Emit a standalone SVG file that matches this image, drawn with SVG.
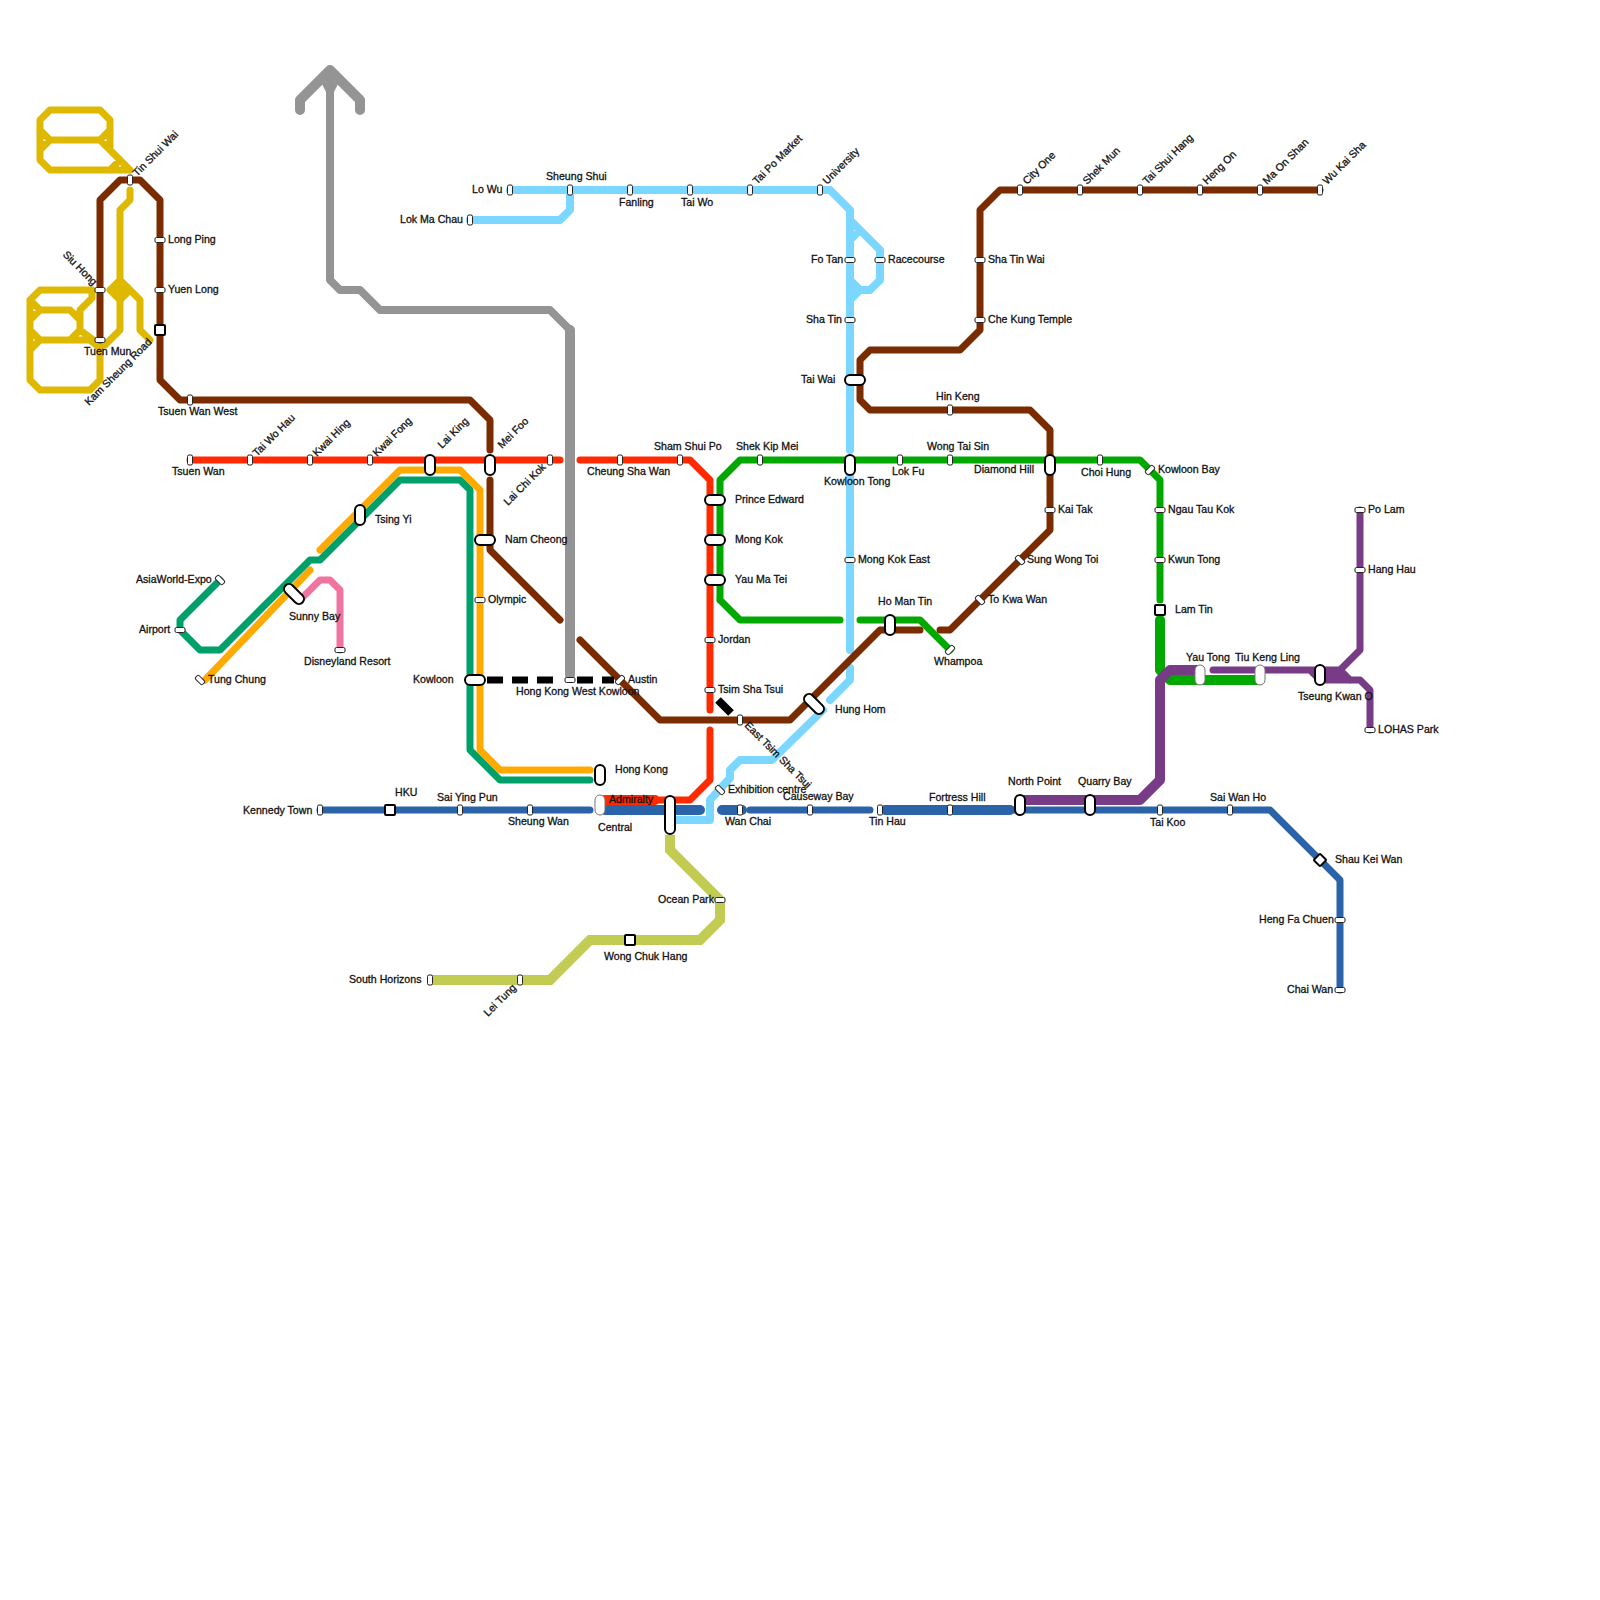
<svg xmlns="http://www.w3.org/2000/svg" width="1600" height="1600" viewBox="0 0 1600 1600">
<style>
text{font-family:"Liberation Sans",Arial,sans-serif;font-size:10.6px;fill:#111;stroke:#111;stroke-width:.3px}
.l{fill:none;stroke-linecap:round;stroke-linejoin:round;stroke-width:7}
.b{stroke-linejoin:miter;stroke-linecap:butt}
.t{stroke-width:10}
.red{stroke:#ff2a00}.brn{stroke:#7a2c00}.grn{stroke:#00a800}.lb{stroke:#7bd7ff}.blu{stroke:#2a63a8}.pur{stroke:#783c87}
.yel{stroke:#dfb800}.gry{stroke:#949494}.org{stroke:#ffaa00}.tea{stroke:#00a06a}.pnk{stroke:#f074a0}.olv{stroke:#c2cc52}
.s{fill:#fff;stroke:#222;stroke-width:1}
.p{fill:#fff;stroke:#000;stroke-width:2}
.g{fill:#fff;stroke:#777;stroke-width:1}
</style>
<rect width="1600" height="1600" fill="#fff"/>
<g id="connectors">
<path class="l gry" style="stroke-width:8" d="M330 70V280L340 290H360L380 310H550L570 330"/>
<path class="l t gry" d="M300 110V100L330 70L360 100V110M570 330V675"/>
<polygon fill="#949494" points="322,84 330,78 338,84 334,92 326,92"/>
<path class="l yel" d="M130 170H50L40 160V120L50 110H100L110 120V150L130 170M40 130L50 140H100L110 130M40 150L50 140M100 140L110 150M110 170L120 160M130 190V200L120 210V280L140 300V330L150 340M120 280L110 290L120 300V330L105 345H100L80 330V310L92 298V290H40L30 300V380L40 390H90L100 380V345M120 300L130 290M120 285V300M115 290H125M30 300L40 310H70L80 320M30 320L40 310M80 330L70 340H40L30 330M30 350L40 340H90L100 348"/>
<path class="l red" d="M190 460H560M580 460H690L710 480V710M710 730V780L690 800H660"/>
<path class="l t red b" style="stroke-linecap:round" d="M605 800H655"/>
<path class="l org" d="M205 680L310 570M320 550L400 470H460L480 490V750L500 770H590"/>
<path class="l tea" d="M220 580L180 620V630L200 650H220L310 560H320L400 480H460L470 490V750L500 780H590"/>
<path class="l pnk" d="M300 600L320 580H330L340 590V650"/>
<path class="l lb" style="stroke-width:8" d="M510 190H830L850 210V450M850 470V650M470 220H560L570 210V190M850 220L880 250V280L870 290H860L850 300M850 240L860 230M850 280L860 290M850 668V680L830 700M823 710L772 760H740L730 770V778L710 800V820H675"/>
<path class="l brn" d="M100 340V200L120 180H140L160 200V380L180 400H470L490 420V450M490 480V550L560 620M580 640L660 720H790L880 630H920M940 630H950L1050 530V450V430L1030 410H870L860 400V360L870 350H960L980 330V210L1000 190H1320"/>
<path class="l grn" d="M720 600V480L740 460H1140L1160 480V600M720 600L740 620H840M860 620H920L950 650"/>
<path class="l t grn" d="M1160 620V670L1170 680H1260"/>
<path class="b" fill="none" stroke="#000" stroke-width="7" d="M487 680H503M512 680H528M537 680H553M577 680H593M602 680H614"/>
<path class="b" fill="none" stroke="#000" stroke-width="8" d="M718 700L731 713"/>
<path class="l blu" d="M320 810H590M750 810H870M1010 810H1270L1340 880V990"/>
<path class="l t blu" d="M605 810H700M722 810H742M885 810H1010"/>
<path class="l t pur" d="M1020 800H1140L1160 780V680L1170 670H1200"/>
<path class="l pur" d="M1213 670H1310L1320 680H1360L1370 690V730M1360 510V650L1340 670H1310M1340 670L1350 680M1325 675H1345"/>
<path class="l olv b" style="stroke-width:10" d="M670 835V850L720 900V920L700 940H590L550 980H430"/>
</g>
<defs>
<rect id="v" class="s" x="-2.5" y="-5" width="5" height="10" rx="1.5"/>
<rect id="h" class="s" x="-5" y="-2.5" width="10" height="5" rx="1.5"/>
<rect id="d1" class="s" x="-5" y="-2.5" width="10" height="5" rx="1.5" transform="rotate(45)"/>
<rect id="d2" class="s" x="-5" y="-2.5" width="10" height="5" rx="1.5" transform="rotate(-45)"/>
<rect id="pv" class="p" x="-5" y="-10" width="10" height="20" rx="5"/>
<rect id="ph" class="p" x="-10" y="-5" width="20" height="10" rx="5"/>
<rect id="pd" class="p" x="-12" y="-5" width="24" height="10" rx="5" transform="rotate(45)"/>
<rect id="gv" class="g" x="-5" y="-10" width="10" height="20" rx="5"/>
<rect id="sq" class="p" x="-5" y="-5" width="10" height="10" rx="1"/>
<rect id="dm" class="p" x="-4.5" y="-4.5" width="9" height="9" rx="1" transform="rotate(45)"/>
</defs>
<g id="st-tin-shui-wai"><use href="#v" x="130" y="180"/><text transform="translate(137 177) rotate(-45)">Tin Shui Wai</text></g>
<g id="st-siu-hong"><use href="#h" x="100" y="290"/><text text-anchor="end" transform="translate(93 286) rotate(45)">Siu Hong</text></g>
<g id="st-tuen-mun"><use href="#h" x="100" y="340"/><text x="84" y="355">Tuen Mun</text></g>
<g id="st-long-ping"><use href="#h" x="160" y="240"/><text x="168" y="243">Long Ping</text></g>
<g id="st-yuen-long"><use href="#h" x="160" y="290"/><text x="168" y="293">Yuen Long</text></g>
<g id="st-kam-sheung-road"><use href="#sq" x="160" y="330"/><text transform="translate(89 406) rotate(-45)">Kam Sheung Road</text></g>
<g id="st-tsuen-wan-west"><use href="#v" x="190" y="400"/><text x="158" y="415">Tsuen Wan West</text></g>
<g id="st-tsuen-wan"><use href="#v" x="190" y="460"/><text x="172" y="475">Tsuen Wan</text></g>
<g id="st-tai-wo-hau"><use href="#v" x="250" y="460"/><text transform="translate(257 457) rotate(-45)">Tai Wo Hau</text></g>
<g id="st-kwai-hing"><use href="#v" x="310" y="460"/><text transform="translate(317 457) rotate(-45)">Kwai Hing</text></g>
<g id="st-kwai-fong"><use href="#v" x="370" y="460"/><text transform="translate(377 457) rotate(-45)">Kwai Fong</text></g>
<g id="st-lai-king"><use href="#pv" x="430" y="465"/><text transform="translate(442 449) rotate(-45)">Lai King</text></g>
<g id="st-mei-foo"><use href="#pv" x="490" y="465"/><text transform="translate(502 449) rotate(-45)">Mei Foo</text></g>
<g id="st-lai-chi-kok"><use href="#v" x="550" y="460"/><text transform="translate(508 506) rotate(-45)">Lai Chi Kok</text></g>
<g id="st-tsing-yi"><use href="#pv" x="360" y="515"/><text x="375" y="523">Tsing Yi</text></g>
<g id="st-sunny-bay"><use href="#pd" x="294" y="594"/><text x="289" y="620">Sunny Bay</text></g>
<g id="st-disneyland"><use href="#h" x="340" y="650"/><text x="304" y="665">Disneyland Resort</text></g>
<g id="st-asiaworld"><use href="#d1" x="220" y="580"/><text x="136" y="583">AsiaWorld-Expo</text></g>
<g id="st-airport"><use href="#h" x="180" y="630"/><text x="139" y="633">Airport</text></g>
<g id="st-tung-chung"><use href="#d1" x="200" y="680"/><text x="208" y="683">Tung Chung</text></g>
<g id="st-nam-cheong"><use href="#ph" x="485" y="540"/><text x="505" y="543">Nam Cheong</text></g>
<g id="st-olympic"><use href="#h" x="480" y="600"/><text x="488" y="603">Olympic</text></g>
<g id="st-kowloon"><use href="#ph" x="475" y="680"/><text x="413" y="683">Kowloon</text></g>
<g id="st-hk-west-kowloon"><use href="#h" x="570" y="680"/><text x="516" y="695">Hong Kong West Kowloon</text></g>
<g id="st-austin"><use href="#d2" x="620" y="680"/><text x="628" y="683">Austin</text></g>
<g id="st-hong-kong"><use href="#pv" x="600" y="775"/><text x="615" y="773">Hong Kong</text></g>
<g id="st-central"><use href="#gv" x="600" y="805"/><text x="598" y="831">Central</text></g>
<g id="st-admiralty"><rect class="p" x="665" y="796" width="10" height="38" rx="5"/><text x="609" y="803">Admiralty</text></g>
<g id="st-kennedy-town"><use href="#v" x="320" y="810"/><text x="243" y="814">Kennedy Town</text></g>
<g id="st-hku"><use href="#sq" x="390" y="810"/><text x="395" y="796">HKU</text></g>
<g id="st-sai-ying-pun"><use href="#v" x="460" y="810"/><text x="437" y="801">Sai Ying Pun</text></g>
<g id="st-sheung-wan"><use href="#v" x="530" y="810"/><text x="508" y="825">Sheung Wan</text></g>
<g id="st-wan-chai"><use href="#v" x="740" y="810"/><text x="725" y="825">Wan Chai</text></g>
<g id="st-causeway-bay"><use href="#v" x="810" y="810"/><text x="783" y="800">Causeway Bay</text></g>
<g id="st-tin-hau"><use href="#v" x="880" y="810"/><text x="869" y="825">Tin Hau</text></g>
<g id="st-fortress-hill"><use href="#v" x="950" y="810"/><text x="929" y="801">Fortress Hill</text></g>
<g id="st-north-point"><use href="#pv" x="1020" y="805"/><text x="1008" y="785">North Point</text></g>
<g id="st-quarry-bay"><use href="#pv" x="1090" y="805"/><text x="1078" y="785">Quarry Bay</text></g>
<g id="st-tai-koo"><use href="#v" x="1160" y="810"/><text x="1150" y="826">Tai Koo</text></g>
<g id="st-sai-wan-ho"><use href="#v" x="1230" y="810"/><text x="1210" y="801">Sai Wan Ho</text></g>
<g id="st-shau-kei-wan"><use href="#dm" x="1320" y="860"/><text x="1335" y="863">Shau Kei Wan</text></g>
<g id="st-heng-fa-chuen"><use href="#h" x="1340" y="920"/><text x="1259" y="923">Heng Fa Chuen</text></g>
<g id="st-chai-wan"><use href="#h" x="1340" y="990"/><text x="1287" y="993">Chai Wan</text></g>
<g id="st-ocean-park"><use href="#h" x="720" y="900"/><text x="658" y="903">Ocean Park</text></g>
<g id="st-wong-chuk-hang"><use href="#sq" x="630" y="940"/><text x="604" y="960">Wong Chuk Hang</text></g>
<g id="st-lei-tung"><use href="#v" x="520" y="980"/><text transform="translate(488 1017) rotate(-45)">Lei Tung</text></g>
<g id="st-south-horizons"><use href="#v" x="430" y="980"/><text x="349" y="983">South Horizons</text></g>
<g id="st-cheung-sha-wan"><use href="#v" x="620" y="460"/><text x="587" y="475">Cheung Sha Wan</text></g>
<g id="st-sham-shui-po"><use href="#v" x="680" y="460"/><text x="654" y="450">Sham Shui Po</text></g>
<g id="st-prince-edward"><use href="#ph" x="715" y="500"/><text x="735" y="503">Prince Edward</text></g>
<g id="st-mong-kok"><use href="#ph" x="715" y="540"/><text x="735" y="543">Mong Kok</text></g>
<g id="st-yau-ma-tei"><use href="#ph" x="715" y="580"/><text x="735" y="583">Yau Ma Tei</text></g>
<g id="st-jordan"><use href="#h" x="710" y="640"/><text x="718" y="643">Jordan</text></g>
<g id="st-tsim-sha-tsui"><use href="#h" x="710" y="690"/><text x="718" y="693">Tsim Sha Tsui</text></g>
<g id="st-east-tsim-sha-tsui"><use href="#v" x="740" y="720"/><text transform="translate(744 726) rotate(45)">East Tsim Sha Tsui</text></g>
<g id="st-exhibition"><use href="#d1" x="720" y="790"/><text x="728" y="793">Exhibition centre</text></g>
<g id="st-hung-hom"><use href="#pd" x="814" y="704"/><text x="835" y="713">Hung Hom</text></g>
<g id="st-ho-man-tin"><use href="#pv" x="890" y="625"/><text x="878" y="605">Ho Man Tin</text></g>
<g id="st-whampoa"><use href="#d2" x="950" y="650"/><text x="934" y="665">Whampoa</text></g>
<g id="st-to-kwa-wan"><use href="#d1" x="980" y="600"/><text x="988" y="603">To Kwa Wan</text></g>
<g id="st-sung-wong-toi"><use href="#d1" x="1020" y="560"/><text x="1027" y="563">Sung Wong Toi</text></g>
<g id="st-kai-tak"><use href="#h" x="1050" y="510"/><text x="1058" y="513">Kai Tak</text></g>
<g id="st-diamond-hill"><use href="#pv" x="1050" y="465"/><text x="974" y="473">Diamond Hill</text></g>
<g id="st-hin-keng"><use href="#v" x="950" y="410"/><text x="936" y="400">Hin Keng</text></g>
<g id="st-che-kung"><use href="#h" x="980" y="320"/><text x="988" y="323">Che Kung Temple</text></g>
<g id="st-sha-tin-wai"><use href="#h" x="980" y="260"/><text x="988" y="263">Sha Tin Wai</text></g>
<g id="st-city-one"><use href="#v" x="1020" y="190"/><text transform="translate(1027 185) rotate(-45)">City One</text></g>
<g id="st-shek-mun"><use href="#v" x="1080" y="190"/><text transform="translate(1087 185) rotate(-45)">Shek Mun</text></g>
<g id="st-tai-shui-hang"><use href="#v" x="1140" y="190"/><text transform="translate(1147 185) rotate(-45)">Tai Shui Hang</text></g>
<g id="st-heng-on"><use href="#v" x="1200" y="190"/><text transform="translate(1207 185) rotate(-45)">Heng On</text></g>
<g id="st-ma-on-shan"><use href="#v" x="1260" y="190"/><text transform="translate(1267 185) rotate(-45)">Ma On Shan</text></g>
<g id="st-wu-kai-sha"><use href="#v" x="1320" y="190"/><text transform="translate(1327 185) rotate(-45)">Wu Kai Sha</text></g>
<g id="st-lo-wu"><use href="#v" x="510" y="190"/><text x="472" y="193">Lo Wu</text></g>
<g id="st-lok-ma-chau"><use href="#v" x="470" y="220"/><text x="400" y="223">Lok Ma Chau</text></g>
<g id="st-sheung-shui"><use href="#v" x="570" y="190"/><text x="546" y="180">Sheung Shui</text></g>
<g id="st-fanling"><use href="#v" x="630" y="190"/><text x="619" y="206">Fanling</text></g>
<g id="st-tai-wo"><use href="#v" x="690" y="190"/><text x="681" y="206">Tai Wo</text></g>
<g id="st-tai-po-market"><use href="#v" x="750" y="190"/><text transform="translate(757 185) rotate(-45)">Tai Po Market</text></g>
<g id="st-university"><use href="#v" x="820" y="190"/><text transform="translate(827 185) rotate(-45)">University</text></g>
<g id="st-fo-tan"><use href="#h" x="850" y="260"/><text x="811" y="263">Fo Tan</text></g>
<g id="st-racecourse"><use href="#h" x="880" y="260"/><text x="888" y="263">Racecourse</text></g>
<g id="st-sha-tin"><use href="#h" x="850" y="320"/><text x="806" y="323">Sha Tin</text></g>
<g id="st-tai-wai"><use href="#ph" x="855" y="380"/><text x="801" y="383">Tai Wai</text></g>
<g id="st-kowloon-tong"><use href="#pv" x="850" y="465"/><text x="824" y="485">Kowloon Tong</text></g>
<g id="st-mong-kok-east"><use href="#h" x="850" y="560"/><text x="858" y="563">Mong Kok East</text></g>
<g id="st-shek-kip-mei"><use href="#v" x="760" y="460"/><text x="736" y="450">Shek Kip Mei</text></g>
<g id="st-lok-fu"><use href="#v" x="900" y="460"/><text x="892" y="475">Lok Fu</text></g>
<g id="st-wong-tai-sin"><use href="#v" x="950" y="460"/><text x="927" y="450">Wong Tai Sin</text></g>
<g id="st-choi-hung"><use href="#v" x="1100" y="460"/><text x="1081" y="476">Choi Hung</text></g>
<g id="st-kowloon-bay"><use href="#d2" x="1150" y="470"/><text x="1158" y="473">Kowloon Bay</text></g>
<g id="st-ngau-tau-kok"><use href="#h" x="1160" y="510"/><text x="1168" y="513">Ngau Tau Kok</text></g>
<g id="st-kwun-tong"><use href="#h" x="1160" y="560"/><text x="1168" y="563">Kwun Tong</text></g>
<g id="st-lam-tin"><use href="#sq" x="1160" y="610"/><text x="1175" y="613">Lam Tin</text></g>
<g id="st-yau-tong"><use href="#gv" x="1200" y="675"/><text x="1186" y="661">Yau Tong</text></g>
<g id="st-tiu-keng-ling"><use href="#gv" x="1260" y="675"/><text x="1235" y="661">Tiu Keng Ling</text></g>
<g id="st-tseung-kwan-o"><use href="#pv" x="1320" y="675"/><text x="1298" y="700">Tseung Kwan O</text></g>
<g id="st-lohas-park"><use href="#h" x="1370" y="730"/><text x="1378" y="733">LOHAS Park</text></g>
<g id="st-hang-hau"><use href="#h" x="1360" y="570"/><text x="1368" y="573">Hang Hau</text></g>
<g id="st-po-lam"><use href="#h" x="1360" y="510"/><text x="1368" y="513">Po Lam</text></g>
</svg>
